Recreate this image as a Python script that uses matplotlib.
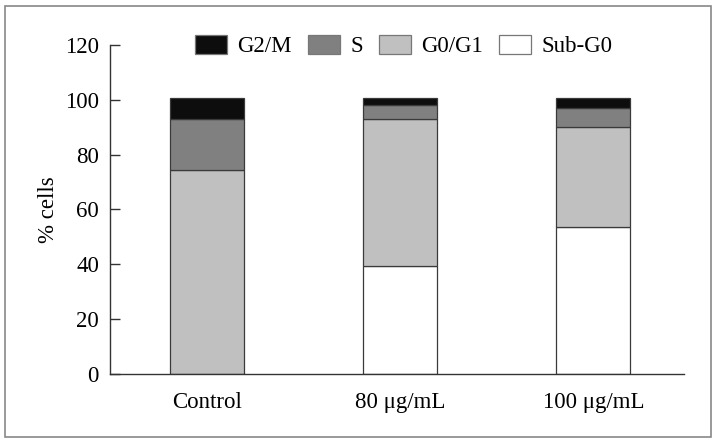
import matplotlib
matplotlib.use("Agg")
import matplotlib.pyplot as plt
from matplotlib.patches import Rectangle
import numpy as np

categories = ["Control", "80 \u03bcg/mL", "100 \u03bcg/mL"]
sub_g0 = [0.0, 39.4, 53.7]
g0_g1 = [74.3, 53.5, 36.3]
s_phase = [18.6, 5.2, 6.9]
g2_m = [7.6, 2.4, 3.6]
yticks = [0, 20, 40, 60, 80, 100, 120]

plt.rcParams['font.family'] = ['Liberation Serif', 'DejaVu Serif']

fig = plt.figure(figsize=(7.17, 4.43), dpi=100)
ax = fig.add_axes([110/717, 1-374/443, (684-110)/717, (374-45)/443])

x = np.arange(len(categories))
w = 0.383
edge = "#3a3a3a"
series = [("Sub-G0", sub_g0, "#ffffff"), ("G0/G1", g0_g1, "#c0c0c0"),
          ("S", s_phase, "#808080"), ("G2/M", g2_m, "#0d0d0d")]
bottom = np.zeros(len(categories))
handles = {}
for name, vals, col in series:
    vals = np.array(vals)
    b = ax.bar(x, vals, w, bottom=bottom, color=col, edgecolor=edge, linewidth=0.9, label=name)
    handles[name] = b
    bottom += vals

fs = 16.5
ax.set_xlim(-0.503, 2.47)
ax.set_ylim(0, 120)
ax.set_yticks(yticks)
ax.set_xticks(x)
ax.set_xticklabels(categories)
ax.tick_params(axis='y', direction='in', length=7, width=1, color='#333333', labelsize=fs, pad=8)
ax.tick_params(axis='x', length=0, labelsize=fs, pad=13)
for sp in ['top', 'right']:
    ax.spines[sp].set_visible(False)
for sp in ['left', 'bottom']:
    ax.spines[sp].set_color('#333333')
    ax.spines[sp].set_linewidth(1)
ax.set_ylabel("% cells", fontsize=fs, labelpad=4)

order = ["G2/M", "S", "G0/G1", "Sub-G0"]
leg = fig.legend([handles[n] for n in order], order, loc='center', ncol=4,
                 bbox_to_anchor=(404/717, 1-46/443), frameon=False, fontsize=fs,
                 handlelength=1.4, handleheight=0.9, handletextpad=0.45, columnspacing=0.7)
for p in leg.get_patches():
    p.set_edgecolor('#777777')

fig.patches.append(Rectangle((5/717, 6/443), 706/717, 431/443, transform=fig.transFigure,
                             fill=False, edgecolor='#888888', linewidth=1.2))

fig.savefig("out.png", dpi=100)
